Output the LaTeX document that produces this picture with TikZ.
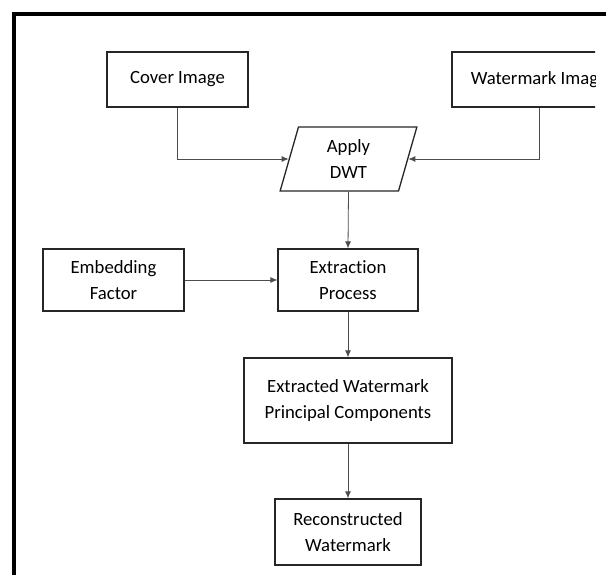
\documentclass[tikz,border=0pt]{standalone}
\usepackage{fontspec}
\setmainfont{Carlito}[Ligatures=NoCommon]
\usetikzlibrary{arrows.meta,shapes.geometric}
\tikzset{
  box/.style={draw=black!85, line width=1.3pt, align=center, inner sep=0pt,
    font=\fontsize{18.7}{26}\selectfont},
  link/.style={draw=black!70, line width=0.8pt, -{Latex[length=7pt,width=6pt]}},
  frame/.style={draw=black, line width=4pt}
}
\begin{document}
\begin{tikzpicture}[x=1pt,y=-1pt]
\useasboundingbox (0,0) rectangle (606,575);
\clip (0,0) rectangle (606,575);
\fill[white] (0,0) rectangle (606,575);
\draw[frame] (13.5,590) -- (13.5,14) -- (620,14);

\node[box, minimum width=141, minimum height=55] (cover) at (177.5,79.5) {Cover Image};
\begin{scope}
\clip (0,0) rectangle (595,575);
\node[box, minimum width=174, minimum height=55] (wm) at (539,79.5) {Watermark Image};
\end{scope}
\node[box, trapezium, trapezium left angle=78.5, trapezium right angle=101.5,
  trapezium stretches=true, minimum width=137, minimum height=64] (dwt) at (348.5,159) {Apply\\DWT};
\node[box, minimum width=141, minimum height=62] (emb) at (113.5,280) {Embedding\\Factor};
\node[box, minimum width=140, minimum height=62] (ext) at (348,280) {Extraction\\Process};
\node[box, minimum width=208, minimum height=85] (pc) at (348,400.5) {Extracted Watermark\\Principal Components};
\node[box, minimum width=146, minimum height=66] (rec) at (348,532) {Reconstructed\\Watermark};

\draw[link] (cover.south) |- (dwt);
\draw[link] (wm.south) |- (dwt);
\draw[link] (dwt.south) -- (ext.north);
\draw[link] (emb.east) -- (ext.west);
\draw[link] (ext.south) -- (pc.north);
\draw[link] (pc.south) -- (rec.north);
\end{tikzpicture}
\end{document}
